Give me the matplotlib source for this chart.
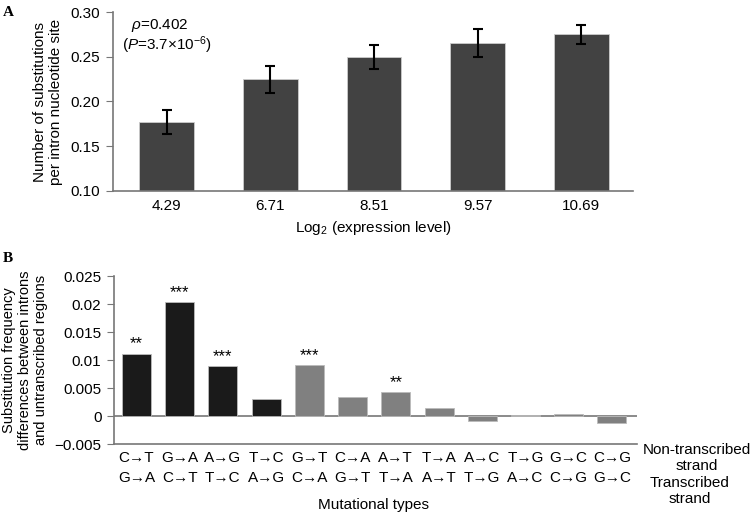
import matplotlib
matplotlib.use("Agg")
import matplotlib.pyplot as plt
import matplotlib.transforms as mtransforms
import numpy as np

plt.rcParams['font.family'] = ['Liberation Sans', 'DejaVu Sans']
plt.rcParams['mathtext.fontset'] = 'custom'
plt.rcParams['mathtext.rm'] = 'Liberation Sans'
plt.rcParams['mathtext.it'] = 'Liberation Sans:italic'

# Panel A data
expr_labels = ["4.29", "6.71", "8.51", "9.57", "10.69"]
subst_rate = [0.177, 0.225, 0.250, 0.265, 0.275]
subst_err = [0.013, 0.015, 0.0135, 0.0155, 0.0105]

# Panel B data
nontranscribed = ["C→T", "G→A", "A→G", "T→C", "G→T", "C→A", "A→T", "T→A", "A→C", "T→G", "G→C", "C→G"]
transcribed = ["G→A", "C→T", "T→C", "A→G", "C→A", "G→T", "T→A", "A→T", "T→G", "A→C", "C→G", "G→C"]
freq_diff = [0.0111, 0.0203, 0.0089, 0.0030, 0.0091, 0.0034, 0.0042, 0.0014, -0.0009, 0.0002, 0.0003, -0.0013]
signif = ["**", "***", "***", "", "***", "", "**", "", "", "", "", ""]

W, H = 751, 515
fig = plt.figure(figsize=(W / 100, H / 100), dpi=100)

def axes_px(l, t, r, b):
    return fig.add_axes([l / W, 1 - b / H, (r - l) / W, (b - t) / H])

spine_col = "#777777"
fs = 11

# ---- Panel A ----
axA = axes_px(113, 12, 633, 191)
xA = np.arange(len(expr_labels))
axA.bar(xA, subst_rate, width=0.53, color="#424242", edgecolor="#cccccc", linewidth=0.6,
        yerr=subst_err, error_kw=dict(ecolor="black", elinewidth=1.5, capsize=3.5, capthick=1.5))
axA.set_xlim(-0.52, len(expr_labels) - 0.5)
axA.set_ylim(0.10, 0.30)
axA.set_yticks([0.10, 0.15, 0.20, 0.25, 0.30])
axA.set_yticklabels(["0.10", "0.15", "0.20", "0.25", "0.30"])
axA.set_xticks(xA)
axA.set_xticklabels(expr_labels)
for s in ["top", "right"]:
    axA.spines[s].set_visible(False)
for s in ["left", "bottom"]:
    axA.spines[s].set_color(spine_col)
    axA.spines[s].set_linewidth(1.2)
axA.tick_params(axis="y", length=5, color=spine_col, labelsize=fs, pad=4)
axA.tick_params(axis="x", length=0, labelsize=fs, pad=6)
axA.set_xlabel("Log$_2$ (expression level)", fontsize=fs, labelpad=4)
axA.set_ylabel("Number of substitutions\nper intron nucleotide site", fontsize=fs, labelpad=6,
               linespacing=1.15)
axA.text(0.09, 0.927, r"$\rho$=0.402", transform=axA.transAxes, fontsize=fs, ha="center", va="center")
axA.text(0.103, 0.816, r"($\mathit{P}$=3.7×10$^{-6}$)", transform=axA.transAxes, fontsize=fs,
         ha="center", va="center")
fig.text(3 / W, 1 - 12 / H, "A", fontsize=11, fontweight="bold", family="Liberation Serif",
         va="center", ha="left")

# ---- Panel B ----
axB = axes_px(114, 276, 637, 444)
xB = np.arange(len(freq_diff))
colors = ["#1a1a1a"] * 4 + ["#808080"] * 8
axB.bar(xB, freq_diff, width=0.67, color=colors, edgecolor="#bbbbbb", linewidth=0.6, zorder=3)
axB.axhline(0, color=spine_col, linewidth=1.2, zorder=2)
axB.set_xlim(-0.52, len(freq_diff) - 0.42)
axB.set_ylim(-0.005, 0.025)
yt = [-0.005, 0, 0.005, 0.01, 0.015, 0.02, 0.025]
axB.set_yticks(yt)
axB.set_yticklabels(["−0.005", "0", "0.005", "0.01", "0.015", "0.02", "0.025"])
for i, s in enumerate(signif):
    if s:
        axB.text(xB[i], freq_diff[i] + 0.0004, s, ha="center", va="bottom", fontsize=12)
for s in ["top", "right"]:
    axB.spines[s].set_visible(False)
for s in ["left", "bottom"]:
    axB.spines[s].set_color(spine_col)
    axB.spines[s].set_linewidth(1.2)
axB.tick_params(axis="y", length=5, color=spine_col, labelsize=fs, pad=4)
axB.set_xticks(xB)
axB.set_xticklabels([])
axB.tick_params(axis="x", length=0)
trans = mtransforms.blended_transform_factory(axB.transData, axB.transAxes)
for i in range(len(xB)):
    axB.text(xB[i], -0.083, nontranscribed[i], transform=trans, ha="center", va="center", fontsize=fs)
    axB.text(xB[i], -0.202, transcribed[i], transform=trans, ha="center", va="center", fontsize=fs)
fig.text(373 / W, 1 - 505 / H, "Mutational types", ha="center", va="center", fontsize=fs)
axB.set_ylabel("Substitution frequency\ndifferences between introns\nand untranscribed regions",
               fontsize=10.5, labelpad=5, linespacing=1.15)
fig.text(697 / W, 1 - 458 / H, "Non-transcribed\nstrand", ha="center", va="center", fontsize=fs,
         linespacing=1.25)
fig.text(690 / W, 1 - 491 / H, "Transcribed\nstrand", ha="center", va="center", fontsize=fs,
         linespacing=1.25)
fig.text(3 / W, 1 - 259 / H, "B", fontsize=11, fontweight="bold", family="Liberation Serif",
         va="center", ha="left")

fig.savefig("out.png", dpi=100)
